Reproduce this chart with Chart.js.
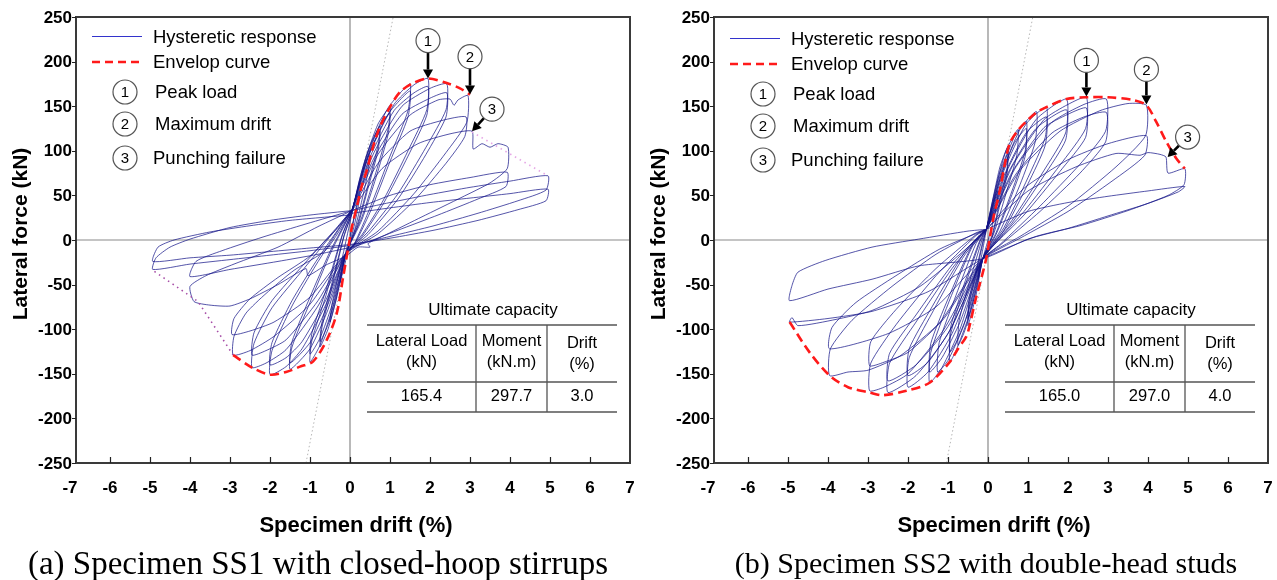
<!DOCTYPE html>
<html>
<head>
<meta charset="utf-8">
<script src="https://cdn.jsdelivr.net/npm/chart.js@4.4.1/dist/chart.umd.min.js"></script>
<style>
  body { margin: 0; background: #fff; width: 1277px; height: 580px; overflow: hidden; position: relative; }
  .panel { position: absolute; top: 0; width: 638px; height: 580px; }
</style>
</head>
<body>
<div class="panel" style="left:0"><canvas id="ss1" width="638" height="580"></canvas></div>
<div class="panel" style="left:638px"><canvas id="ss2" width="638" height="580"></canvas></div>
<script>
/* ─── Data (drift %, lateral force kN) ─── */

const driftTicks = [-7, -6, -5, -4, -3, -2, -1, 0, 1, 2, 3, 4, 5, 6, 7];
const forceTicks = [-250, -200, -150, -100, -50, 0, 50, 100, 150, 200, 250];

// SS1 hysteresis, one array per cycle
const ss1Loops = [
  [[0,2],[0.12,28],[0.25,50],[0.2,36],[0.1,15],[0,-2],[-0.12,-25],[-0.25,-48],[-0.2,-34],[-0.1,-12],[0,2]],
  [[0,5],[0.2,45],[0.35,68],[0.5,95],[0.45,76],[0.3,45],[0.12,12],[-0.1,-15],[-0.25,-48],[-0.5,-92],[-0.45,-72],[-0.3,-42],[-0.12,-5],[0.05,30]],
  [[0.05,30],[0.25,70],[0.5,106],[0.75,128],[0.7,106],[0.45,62],[0.2,20],[-0.1,-15],[-0.35,-68],[-0.55,-100],[-0.75,-120],[-0.7,-98],[-0.45,-52],[-0.15,4],[0.05,30]],
  [[0.05,30],[0.25,66],[0.5,100],[0.75,122],[0.7,100],[0.45,58],[0.2,17],[-0.1,-15],[-0.35,-63],[-0.55,-95],[-0.75,-114],[-0.7,-92],[-0.45,-48],[-0.15,5],[0.05,30]],
  [[0.05,32],[0.35,86],[0.7,130],[1.0,149],[0.95,124],[0.65,76],[0.3,26],[-0.1,-15],[-0.45,-78],[-0.75,-118],[-1.0,-137],[-0.95,-112],[-0.6,-62],[-0.2,4],[0.05,32]],
  [[0.05,32],[0.35,82],[0.7,124],[1.0,142],[0.95,118],[0.65,70],[0.3,23],[-0.1,-15],[-0.45,-73],[-0.75,-110],[-1.0,-128],[-0.95,-104],[-0.6,-56],[-0.2,5],[0.05,32]],
  [[0.05,33],[0.45,98],[0.95,148],[1.5,175],[1.45,145],[1.0,94],[0.5,36],[0.1,-5],[-0.1,-15],[-0.55,-78],[-1.0,-122],[-1.5,-145],[-1.45,-120],[-1.0,-70],[-0.5,-16],[-0.1,20],[0.05,33]],
  [[0.05,33],[0.45,93],[0.95,141],[1.5,167],[1.45,138],[1.0,88],[0.5,31],[0.1,-6],[-0.1,-15],[-0.55,-72],[-1.0,-115],[-1.5,-138],[-1.45,-114],[-1.0,-64],[-0.5,-13],[-0.1,21],[0.05,33]],
  [[0.05,34],[0.5,98],[1.1,152],[1.6,174],[1.95,181],[1.92,146],[1.45,100],[0.85,46],[0.3,6],[-0.1,-15],[-0.6,-72],[-1.2,-122],[-1.6,-142],[-2.0,-151],[-1.95,-124],[-1.45,-74],[-0.85,-28],[-0.25,14],[0.05,34]],
  [[0.05,34],[0.5,93],[1.1,145],[1.6,165],[1.95,172],[1.92,140],[1.45,94],[0.85,42],[0.3,4],[-0.1,-15],[-0.6,-67],[-1.2,-114],[-1.6,-132],[-2.0,-140],[-1.95,-115],[-1.45,-68],[-0.85,-24],[-0.25,15],[0.05,34]],
  [[0.05,34],[0.6,98],[1.3,150],[2.0,170],[2.42,175],[2.4,146],[1.9,104],[1.2,52],[0.45,9],[-0.1,-15],[-0.8,-74],[-1.6,-123],[-2.1,-138],[-2.45,-143],[-2.4,-116],[-1.95,-76],[-1.15,-32],[-0.35,12],[0.05,34]],
  [[0.05,34],[0.6,92],[1.3,141],[2.0,159],[2.42,165],[2.4,138],[1.9,96],[1.2,46],[0.45,6],[-0.1,-15],[-0.8,-68],[-1.6,-112],[-2.1,-124],[-2.45,-129],[-2.4,-104],[-1.95,-68],[-1.15,-27],[-0.35,13],[0.05,34]],
  [[0.05,34],[0.7,96],[1.5,140],[2.2,157],[2.5,158],[2.6,151],[2.7,157],[2.95,162],[2.92,132],[2.4,98],[1.6,52],[0.7,10],[-0.1,-15],[-1.0,-72],[-1.9,-108],[-2.5,-124],[-2.92,-129],[-2.9,-108],[-2.6,-82],[-2.1,-60],[-1.4,-34],[-0.6,-11],[0.05,33]],
  [[0.05,33],[0.7,86],[1.5,122],[2.3,134],[2.9,138],[2.87,116],[2.4,86],[1.6,44],[0.7,7],[-0.1,-15],[-1.0,-64],[-1.9,-92],[-2.5,-102],[-2.95,-106],[-2.9,-88],[-2.5,-66],[-1.8,-42],[-1.0,-18],[-0.3,14],[0.05,33]],
  [[0.05,33],[0.8,80],[1.7,108],[2.5,119],[3.05,122],[3.08,102],[3.3,108],[3.5,104],[3.7,108],[3.95,104],[3.93,80],[3.5,64],[2.8,48],[1.8,26],[0.9,6],[0.45,-4],[0.5,-8],[0.2,-8],[-0.1,-18],[-0.6,-28],[-1.05,-40],[-1.1,-32],[-1.8,-50],[-2.5,-66],[-3.0,-74],[-3.5,-73],[-3.9,-69],[-4.0,-52],[-3.6,-40],[-2.9,-27],[-1.8,-8],[-0.8,15],[0.05,33]],
  [[0.05,33],[1.0,50],[2.0,62],[3.0,70],[3.93,76],[3.9,60],[3.2,46],[2.2,28],[1.2,11],[0.2,-6],[-0.8,-16],[-1.8,-24],[-3.0,-33],[-4.0,-41],[-3.85,-24],[-3.2,-12],[-2.2,3],[-1.1,18],[0.05,33]],
  [[0.05,33],[1.0,42],[2.0,51],[3.0,59],[4.0,66],[4.95,72],[4.9,56],[4.2,44],[3.2,30],[2.1,16],[1.0,4],[0,-6],[-1.0,-12],[-2.0,-17],[-3.0,-22],[-4.0,-27],[-4.93,-33],[-4.85,-20],[-4.5,-8],[-4.0,1],[-3.0,14],[-2.0,22],[-1.0,28],[0.05,33]],
  [[0.05,30],[1.0,36],[2.0,42],[3.0,47],[4.0,52],[4.95,57],[4.9,44],[4.2,34],[3.2,22],[2.1,11],[1.0,2],[0,-5],[-1.0,-9],[-2.0,-13],[-3.0,-17],[-4.0,-20],[-4.93,-24],[-4.8,-8],[-4.4,0],[-3.5,9],[-2.5,16],[-1.5,22],[0,28]],
];
const ss1Envelope = [[-2.92,-129],[-2.45,-143],[-2.0,-151],[-1.6,-148],[-1.25,-142],[-0.92,-136],[-0.58,-112],[-0.33,-82],[-0.17,-41],[-0.04,-8],[0.05,15],[0.17,37],[0.29,60],[0.42,78],[0.58,105],[0.75,127],[1.0,149],[1.25,166],[1.58,176],[1.95,181],[2.42,176],[2.75,170],[3.0,163]];
const ss1DropPos = [[3.05,121],[4.95,72]];
const ss1DropNeg = [[-2.92,-129],[-3.8,-69],[-4.93,-34]];
const ss1Stiffness = [[-1.1,-250],[1.08,250]];
const ss1Markers = [[1.95,181],[3.0,163],[3.05,122]];
const ss1Capacity = ['165.4', '297.7', '3.0'];

// SS2 hysteresis
const ss2Loops = [
  [[-0.04,12],[0.1,35],[0.25,55],[0.22,40],[0.1,15],[-0.05,-8],[-0.13,-21],[-0.25,-45],[-0.22,-32],[-0.12,-8],[-0.04,12]],
  [[-0.04,12],[0.15,52],[0.3,82],[0.5,105],[0.47,78],[0.3,45],[0.1,5],[-0.13,-21],[-0.3,-62],[-0.5,-96],[-0.47,-72],[-0.3,-38],[-0.12,-2],[-0.04,12]],
  [[-0.04,12],[0.15,48],[0.3,76],[0.5,98],[0.47,72],[0.3,40],[0.1,3],[-0.13,-21],[-0.3,-57],[-0.5,-88],[-0.47,-66],[-0.3,-34],[-0.12,0],[-0.04,12]],
  [[-0.04,12],[0.2,60],[0.45,100],[0.75,124],[0.72,95],[0.45,52],[0.15,8],[-0.13,-21],[-0.4,-75],[-0.6,-104],[-0.75,-118],[-0.72,-90],[-0.45,-45],[-0.15,0],[-0.04,12]],
  [[-0.04,12],[0.3,72],[0.65,115],[0.96,133],[0.93,100],[0.6,55],[0.2,8],[-0.13,-21],[-0.5,-88],[-0.8,-124],[-0.96,-137],[-0.93,-105],[-0.6,-55],[-0.2,-2],[-0.04,12]],
  [[-0.04,12],[0.3,68],[0.65,108],[0.96,125],[0.93,94],[0.6,51],[0.2,6],[-0.13,-21],[-0.5,-82],[-0.8,-115],[-0.96,-126],[-0.93,-97],[-0.6,-50],[-0.2,0],[-0.04,12]],
  [[-0.04,12],[0.35,76],[0.8,124],[1.21,144],[1.18,110],[0.8,62],[0.3,10],[-0.13,-21],[-0.6,-95],[-1.0,-135],[-1.26,-148],[-1.22,-115],[-0.8,-62],[-0.3,-4],[-0.04,12]],
  [[-0.04,12],[0.4,78],[0.95,130],[1.46,149],[1.43,115],[1.0,70],[0.4,14],[-0.13,-21],[-0.7,-100],[-1.15,-143],[-1.46,-160],[-1.43,-126],[-1.0,-72],[-0.4,-8],[-0.04,12]],
  [[-0.04,12],[0.4,72],[0.95,120],[1.46,138],[1.43,106],[1.0,63],[0.4,11],[-0.13,-21],[-0.7,-92],[-1.15,-132],[-1.46,-148],[-1.43,-116],[-1.0,-66],[-0.4,-6],[-0.04,12]],
  [[-0.04,12],[0.5,80],[1.2,135],[1.96,158],[1.94,120],[1.4,78],[0.6,22],[-0.13,-21],[-0.9,-105],[-1.5,-148],[-2.0,-165],[-1.97,-132],[-1.4,-82],[-0.6,-18],[-0.04,12]],
  [[-0.04,12],[0.5,75],[1.2,125],[1.96,146],[1.94,112],[1.4,72],[0.6,19],[-0.13,-21],[-0.9,-97],[-1.5,-137],[-2.0,-152],[-1.97,-122],[-1.4,-75],[-0.6,-15],[-0.04,12]],
  [[-0.04,12],[0.6,82],[1.4,135],[2.0,152],[2.46,160],[2.44,125],[1.8,84],[0.9,32],[0.1,-8],[-0.13,-21],[-1.0,-105],[-1.8,-152],[-2.5,-171],[-2.46,-138],[-1.8,-92],[-0.9,-32],[-0.2,6],[-0.04,12]],
  [[-0.04,12],[0.6,76],[1.4,126],[2.0,141],[2.46,148],[2.44,115],[1.8,77],[0.9,28],[0.1,-8],[-0.13,-21],[-1.0,-97],[-1.8,-140],[-2.5,-158],[-2.46,-127],[-1.8,-84],[-0.9,-28],[-0.2,6],[-0.04,12]],
  [[-0.04,12],[0.7,82],[1.6,132],[2.4,152],[2.96,158],[2.94,122],[2.3,85],[1.3,38],[0.3,-5],[-0.13,-21],[-1.1,-100],[-2.0,-150],[-2.6,-165],[-2.96,-169],[-2.93,-138],[-2.3,-95],[-1.3,-40],[-0.3,5],[-0.04,12]],
  [[-0.04,12],[0.7,74],[1.6,120],[2.4,138],[2.96,143],[2.94,110],[2.3,75],[1.3,32],[0.3,-6],[-0.13,-21],[-1.1,-88],[-2.0,-126],[-2.6,-137],[-2.96,-141],[-2.93,-114],[-2.3,-78],[-1.3,-32],[-0.3,6],[-0.04,12]],
  [[-0.04,12],[0.8,78],[1.8,122],[2.8,145],[3.5,153],[3.96,151],[3.94,117],[3.2,82],[2.0,38],[0.8,4],[-0.13,-21],[-1.2,-92],[-2.2,-130],[-3.0,-146],[-3.5,-148],[-3.96,-152],[-3.94,-122],[-3.4,-90],[-2.4,-52],[-1.3,-16],[-0.3,8],[-0.04,12]],
  [[-0.04,12],[0.9,58],[2.0,90],[3.0,108],[3.96,117],[3.92,95],[3.1,66],[2.0,32],[0.8,2],[-0.13,-21],[-1.3,-75],[-2.5,-105],[-3.96,-122],[-3.9,-98],[-3.3,-70],[-2.3,-40],[-1.2,-10],[-0.04,12]],
  [[-0.04,12],[1.0,55],[2.2,82],[3.2,97],[3.8,95],[4.0,98],[4.3,96],[4.45,93],[4.5,75],[4.92,80],[4.9,62],[4.5,50],[3.5,33],[2.3,16],[1.2,4],[-0.13,-21],[-1.5,-58],[-2.9,-80],[-4.0,-88],[-4.96,-92],[-4.9,-87],[-4.75,-96],[-3.8,-89],[-2.9,-79],[-1.7,-52],[-0.6,-12],[-0.04,12]],
  [[-0.04,12],[1.0,32],[2.0,42],[3.0,49],[4.0,55],[4.92,60],[4.76,54],[4.0,41],[3.0,27],[2.0,13],[1.0,1],[-0.13,-21],[-1.73,-29],[-2.9,-44],[-4.0,-55],[-4.96,-68],[-4.9,-51],[-4.75,-36],[-4.07,-23],[-2.9,-8],[-1.73,1],[-0.5,10],[-0.04,12]],
];
const ss2Envelope = [[-4.96,-92],[-4.46,-126],[-3.96,-152],[-3.5,-165],[-2.96,-171],[-2.63,-174],[-2.04,-169],[-1.46,-160],[-0.96,-137],[-0.75,-122],[-0.54,-108],[-0.46,-96],[-0.3,-65],[-0.15,-40],[-0.04,-20],[0.04,1],[0.15,28],[0.29,54],[0.42,85],[0.54,108],[0.75,123],[0.96,133],[1.21,143],[1.46,149],[1.96,158],[2.46,160],[3.0,160],[3.62,157],[3.96,151],[4.2,133],[4.46,110],[4.7,92],[4.92,80]];
const ss2Stiffness = [[-1.04,-250],[1.12,250]];
const ss2Markers = [[2.46,161],[3.96,152],[4.49,93]];
const ss2Capacity = ['165.0', '297.0', '4.0'];

const legendLabels = ['Hysteretic response', 'Envelop curve', 'Peak load', 'Maximum drift', 'Punching failure'];
const capacityTitle = 'Ultimate capacity';
const capacityHeaders = [['Lateral Load', '(kN)'], ['Moment', '(kN.m)'], ['Drift', '(%)']];
const axisTitles = ['Specimen drift (%)', 'Lateral force (kN)'];
const captions = ['(a) Specimen SS1 with closed-hoop stirrups', '(b) Specimen SS2 with double-head studs'];

/* ─── Drawing ─── */

const SANS = '"Liberation Sans", Arial, sans-serif';
const SERIF = '"Liberation Serif", "Times New Roman", serif';
const pts = arr => arr.map(([x, y]) => ({ x, y }));

function circleNum(ctx, cx, cy, n) {
  ctx.save();
  ctx.beginPath();
  ctx.arc(cx, cy, 12, 0, Math.PI * 2);
  ctx.fillStyle = '#fff';
  ctx.fill();
  ctx.lineWidth = 1.2;
  ctx.strokeStyle = '#555';
  ctx.stroke();
  ctx.fillStyle = '#000';
  ctx.font = `15px ${SANS}`;
  ctx.textAlign = 'center';
  ctx.textBaseline = 'middle';
  ctx.fillText(String(n), cx, cy + 1);
  ctx.restore();
}

function arrow(ctx, x0, y0, x1, y1) {
  const a = Math.atan2(y1 - y0, x1 - x0);
  const hl = 9, hw = 5;
  const bx = x1 - hl * Math.cos(a), by = y1 - hl * Math.sin(a);
  ctx.save();
  ctx.strokeStyle = '#000';
  ctx.fillStyle = '#000';
  ctx.lineWidth = 2.6;
  ctx.beginPath();
  ctx.moveTo(x0, y0);
  ctx.lineTo(bx, by);
  ctx.stroke();
  ctx.beginPath();
  ctx.moveTo(x1, y1);
  ctx.lineTo(bx + hw * Math.sin(a), by - hw * Math.cos(a));
  ctx.lineTo(bx - hw * Math.sin(a), by + hw * Math.cos(a));
  ctx.closePath();
  ctx.fill();
  ctx.restore();
}

const decor = {
  id: 'decor',
  beforeDatasetsDraw(chart) {
    const { ctx, chartArea: a, scales: { x, y } } = chart;
    ctx.save();
    ctx.strokeStyle = '#8a8a8a';
    ctx.lineWidth = 1.2;
    ctx.beginPath();
    ctx.moveTo(a.left + 6, y.getPixelForValue(0));
    ctx.lineTo(a.right, y.getPixelForValue(0));
    ctx.moveTo(x.getPixelForValue(0), a.top);
    ctx.lineTo(x.getPixelForValue(0), a.bottom);
    ctx.stroke();
    ctx.restore();
  },
  afterDatasetsDraw(chart, args, o) {
    const { ctx, chartArea: a, scales: { x, y } } = chart;
    const left = a.left + 6;
    ctx.save();

    // frame, tick marks and tick labels
    ctx.strokeStyle = '#3a3a3a';
    ctx.lineWidth = 2;
    ctx.strokeRect(left, a.top, a.right - left, a.bottom - a.top);
    ctx.lineWidth = 1.2;
    ctx.strokeStyle = '#222';
    ctx.beginPath();
    driftTicks.slice(1, -1).forEach(v => {
      const px = Math.round(x.getPixelForValue(v)) + 0.5;
      ctx.moveTo(px, a.bottom);
      ctx.lineTo(px, a.bottom - 6);
    });
    forceTicks.forEach(v => {
      const py = Math.round(y.getPixelForValue(v)) + 0.5;
      ctx.moveTo(left, py);
      ctx.lineTo(left - 4, py);
    });
    ctx.stroke();
    ctx.fillStyle = '#000';
    ctx.font = `bold 17px ${SANS}`;
    ctx.textBaseline = 'middle';
    ctx.textAlign = 'center';
    driftTicks.forEach(v => ctx.fillText(String(v), x.getPixelForValue(v), 488));
    ctx.textAlign = 'right';
    forceTicks.forEach(v => ctx.fillText(String(v), 72, y.getPixelForValue(v) + 1));

    // legend
    const dy = o.legendDy;
    ctx.lineWidth = 1;
    ctx.strokeStyle = '#3333cc';
    ctx.beginPath();
    ctx.moveTo(92, 36.5 + dy);
    ctx.lineTo(142, 36.5 + dy);
    ctx.stroke();
    ctx.lineWidth = 2.6;
    ctx.strokeStyle = '#ff1a1a';
    ctx.setLineDash([8, 5]);
    ctx.beginPath();
    ctx.moveTo(92, 62 + dy);
    ctx.lineTo(142, 62 + dy);
    ctx.stroke();
    ctx.setLineDash([]);
    ctx.fillStyle = '#000';
    ctx.font = `18.5px ${SANS}`;
    ctx.textAlign = 'left';
    ctx.fillText(legendLabels[0], 153, 38 + dy);
    ctx.fillText(legendLabels[1], 153, 63 + dy);
    [92, 124, 158].forEach((ry, i) => {
      circleNum(ctx, 125, ry + dy, i + 1);
      ctx.fillStyle = '#000';
      ctx.font = `18.5px ${SANS}`;
      ctx.textAlign = 'left';
      ctx.textBaseline = 'middle';
      ctx.fillText(legendLabels[i + 2], i === 2 ? 153 : 155, ry + dy + 1);
    });

    // markers 1..3
    o.markers.forEach(([mx, my], i) => {
      const tx = x.getPixelForValue(mx), ty = y.getPixelForValue(my);
      const [ox, oy] = o.markerOffsets[i];
      const cx = tx + ox, cy = ty + oy;
      const d = Math.hypot(tx - cx, ty - cy);
      arrow(ctx, cx + (tx - cx) / d * 12, cy + (ty - cy) / d * 12, tx, ty);
      circleNum(ctx, cx, cy, i + 1);
    });

    // capacity table
    ctx.strokeStyle = '#555';
    ctx.lineWidth = 1.3;
    ctx.beginPath();
    [325, 382, 412].forEach(ly => { ctx.moveTo(367, ly); ctx.lineTo(617, ly); });
    [476, 547].forEach(lx => { ctx.moveTo(lx, 325); ctx.lineTo(lx, 412); });
    ctx.stroke();
    ctx.fillStyle = '#000';
    ctx.textAlign = 'center';
    ctx.textBaseline = 'middle';
    ctx.font = `17px ${SANS}`;
    ctx.fillText(capacityTitle, 493, 310);
    const colX = [421.5, 511.5, 582];
    ctx.font = `16.5px ${SANS}`;
    capacityHeaders.forEach(([h1, h2], i) => {
      ctx.fillText(h1, colX[i], i === 2 ? 343 : 341);
      ctx.fillText(h2, colX[i], i === 2 ? 364 : 362);
      ctx.fillText(o.capacity[i], colX[i], 396);
    });

    // axis titles and caption
    ctx.font = `bold 22px ${SANS}`;
    ctx.fillText(axisTitles[0], 356, 526);
    ctx.save();
    ctx.translate(21, 234);
    ctx.rotate(-Math.PI / 2);
    ctx.font = `bold 21px ${SANS}`;
    ctx.fillText(axisTitles[1], 0, 0);
    ctx.restore();
    ctx.font = `${o.captionSize}px ${SERIF}`;
    ctx.fillText(o.caption, o.captionX, 565);
    ctx.restore();
  },
};

function buildPanel(id, p) {
  const datasets = [
    { data: pts(p.envelope), borderColor: '#ff1a1a', borderWidth: 2.6, borderDash: [9, 5], tension: 0.3, order: 0 },
    ...p.extras.map(e => ({ data: pts(e.data), borderColor: e.color, borderWidth: 1.6, borderDash: [1.5, 4], order: 1 })),
    ...p.loops.map(l => ({ data: pts(l), borderColor: 'rgba(18,18,135,0.85)', borderWidth: 0.85, tension: 0.2, order: 2 })),
    { data: pts(p.stiffness), borderColor: '#b5b5b5', borderWidth: 1, borderDash: [1.5, 2.5], order: 3 },
  ];
  return new Chart(document.getElementById(id), {
    type: 'scatter',
    data: { datasets: datasets.map(d => ({ showLine: true, pointRadius: 0, fill: false, ...d })) },
    options: {
      responsive: false,
      animation: false,
      devicePixelRatio: 1,
      layout: { padding: { top: 17, right: 8, left: 0, bottom: 0 } },
      plugins: { legend: { display: false }, tooltip: { enabled: false }, decor: p.decor },
      scales: {
        x: {
          type: 'linear', min: driftTicks[0], max: driftTicks[driftTicks.length - 1],
          ticks: { display: false },
          grid: { display: false, drawTicks: false },
          border: { display: false },
          afterFit(s) { s.height = 117; },
        },
        y: {
          type: 'linear', min: forceTicks[0], max: forceTicks[forceTicks.length - 1],
          ticks: { display: false },
          grid: { display: false, drawTicks: false },
          border: { display: false },
          afterFit(s) { s.width = 70; },
        },
      },
    },
    plugins: [decor],
  });
}

buildPanel('ss1', {
  loops: ss1Loops,
  envelope: ss1Envelope,
  stiffness: ss1Stiffness,
  extras: [{ data: ss1DropPos, color: '#e6a8e6' }, { data: ss1DropNeg, color: '#a64ca6' }],
  decor: {
    legendDy: 0,
    markers: ss1Markers,
    markerOffsets: [[0, -38], [0, -38], [20, -22]],
    capacity: ss1Capacity,
    caption: captions[0],
    captionX: 318,
    captionSize: 33,
  },
});

buildPanel('ss2', {
  loops: ss2Loops,
  envelope: ss2Envelope,
  stiffness: ss2Stiffness,
  extras: [],
  decor: {
    legendDy: 2,
    markers: ss2Markers,
    markerOffsets: [[0, -36], [0, -35], [20, -20]],
    capacity: ss2Capacity,
    caption: captions[1],
    captionX: 348,
    captionSize: 30,
  },
});
</script>
</body>
</html>
